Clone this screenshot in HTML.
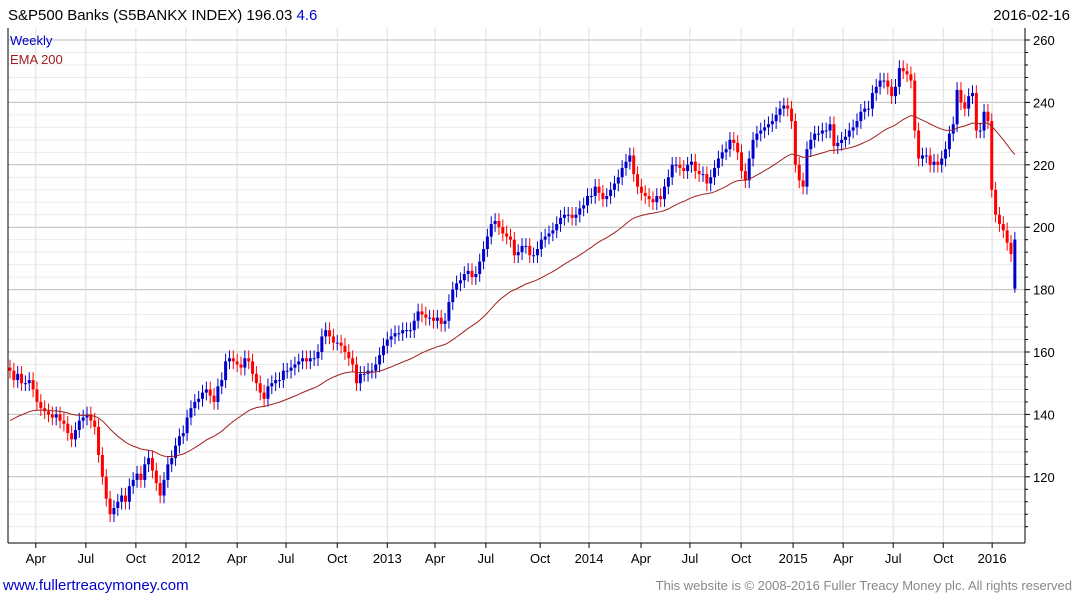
<!DOCTYPE html>
<html><head><meta charset="utf-8"><style>
body{margin:0;background:#fff;font-family:"Liberation Sans",sans-serif}
svg text{font-family:"Liberation Sans",sans-serif}
</style></head><body>
<svg id="c" width="1075" height="600" xmlns="http://www.w3.org/2000/svg">
<text x="8" y="20" font-size="15" fill="#000">S&amp;P500 Banks  (S5BANKX INDEX) 196.03 <tspan fill="#0000cc">4.6</tspan></text>
<text x="1070" y="20" font-size="15" fill="#000" text-anchor="end">2016-02-16</text>
<text x="3" y="590" font-size="15" fill="#0000cc">www.fullertreacymoney.com</text>
<text x="1072" y="590" font-size="13" fill="#888" text-anchor="end">This website is © 2008-2016 Fuller Treacy Money plc. All rights reserved</text>
</svg>
<script>
const closes=[154,151,153,150,150,151,148,144,142,141,140,139,140,138,137,134,132,135,138,139,140,138,136,127,120,113,108,110,112,114,112,117,119,121,119,124,126,122,118,114,119,124,126,130,133,134,139,142,144,145,147,148,146,144,149,151,157,158,157,156,155,158,157,153,150,147,145,149,150,151,151,154,154,155,156,157,158,157,158,158,160,165,167,165,163,163,162,160,158,156,150,153,153,154,154,156,159,162,164,165,166,166,167,167,167,170,173,172,171,171,170,171,169,170,176,180,182,183,185,186,184,185,189,193,197,201,202,200,198,197,196,191,192,194,194,191,191,193,196,197,198,199,201,203,204,204,203,204,206,207,210,210,213,211,209,210,212,214,216,219,221,223,217,213,211,210,209,208,210,209,213,216,220,220,219,218,220,221,218,217,217,214,216,219,222,224,225,228,227,224,218,215,222,228,230,231,232,233,234,236,238,239,238,234,220,215,213,225,228,230,230,231,231,233,226,227,228,229,231,232,234,237,238,238,243,245,247,247,245,242,245,251,250,249,247,231,222,223,223,220,221,220,222,225,230,233,244,240,238,242,243,231,231,237,234,212,204,201,199,195,191.4,196.03];
const lastOpen=180.3;
const lastLow=179;
const yTicks=[120,140,160,180,200,220,240,260];
const xLabels=["Apr","Jul","Oct","2012","Apr","Jul","Oct","2013","Apr","Jul","Oct","2014","Apr","Jul","Oct","2015","Apr","Jul","Oct","2016"];
const xLabelWeeks=[6.7,19.7,32.7,45.7,59,71.7,85,98,110.4,123.6,137.7,150.4,163.9,176.6,189.9,203.4,216.4,229.4,242.4,255.1];
const NS="http://www.w3.org/2000/svg";
const svg=document.getElementById('c');
const L=8,R=1025,T=28,B=543;
const y=v=>40+(260-v)*3.12;
const x=i=>10+i*3.85;
function mk(t,a,p){const e=document.createElementNS(NS,t);for(const k in a)e.setAttribute(k,a[k]);(p||svg).appendChild(e);return e;}
const g=mk('g',{});


for(let v=104;v<=264;v+=4){if(y(v)<T||y(v)>B)continue;const major=v%20===0;
 mk('line',{x1:L,x2:R,y1:y(v),y2:y(v),stroke:major?'#bbb':'#ececec','stroke-width':1},g);}
xLabelWeeks.forEach((w,k)=>{mk('line',{x1:x(w),x2:x(w),y1:T,y2:B,stroke:'#ddd'},g);
 const t=mk('text',{x:x(w),y:563,'font-size':13,'text-anchor':'middle',fill:'#000'});t.textContent=xLabels[k];
 
 
 mk('line',{x1:x(w),x2:x(w),y1:B,y2:B+5,stroke:'#000'});});
mk('line',{x1:R,x2:R,y1:T,y2:B,stroke:'#000'});
mk('line',{x1:L,x2:R,y1:B,y2:B,stroke:'#000'});
mk('line',{x1:L,x2:L,y1:T,y2:B,stroke:'#000'});
for(let v=104;v<=264;v+=4){if(y(v)<T||y(v)>B)continue;mk('line',{x1:R,x2:R+(v%20===0?5:3),y1:y(v),y2:y(v),stroke:'#000'});}
yTicks.forEach(v=>{const t=mk('text',{x:R+8,y:y(v)+5,'font-size':13,fill:'#000'});t.textContent=v;
 
 });
const cg=mk('g',{});


const n=closes.length;
closes.forEach((c,i)=>{let o=i?closes[i-1]:c+1;if(i===n-1)o=lastOpen;const col=c>=o?'#0000cc':'#ff0000';
 const hi=Math.max(o,c)+2.5;let lo=Math.min(o,c)-2.5;if(i===n-1)lo=lastLow;
 mk('line',{x1:x(i),x2:x(i),y1:y(hi),y2:y(lo),stroke:col,'stroke-width':1},cg);
 const top=y(Math.max(o,c)),h=Math.max(1,Math.abs(y(o)-y(c)));
 const r=mk('rect',{x:x(i)-1.5,y:top,width:3,height:h,fill:col},cg);
 
 });
let e=138,pts=[];const k=2/41;
closes.forEach((c,i)=>{e=i?e+k*(c-e):e;pts.push(x(i).toFixed(1)+','+y(e).toFixed(1));});
const pl=mk('polyline',{points:pts.join(' '),fill:'none',stroke:'#a02020','stroke-width':1});


const l1=mk('text',{x:10,y:45,'font-size':13,fill:'#0000cc'});l1.textContent='Weekly';


const l2=mk('text',{x:10,y:64,'font-size':13,fill:'#a02020'});l2.textContent='EMA 200';


</script>
</body></html>
